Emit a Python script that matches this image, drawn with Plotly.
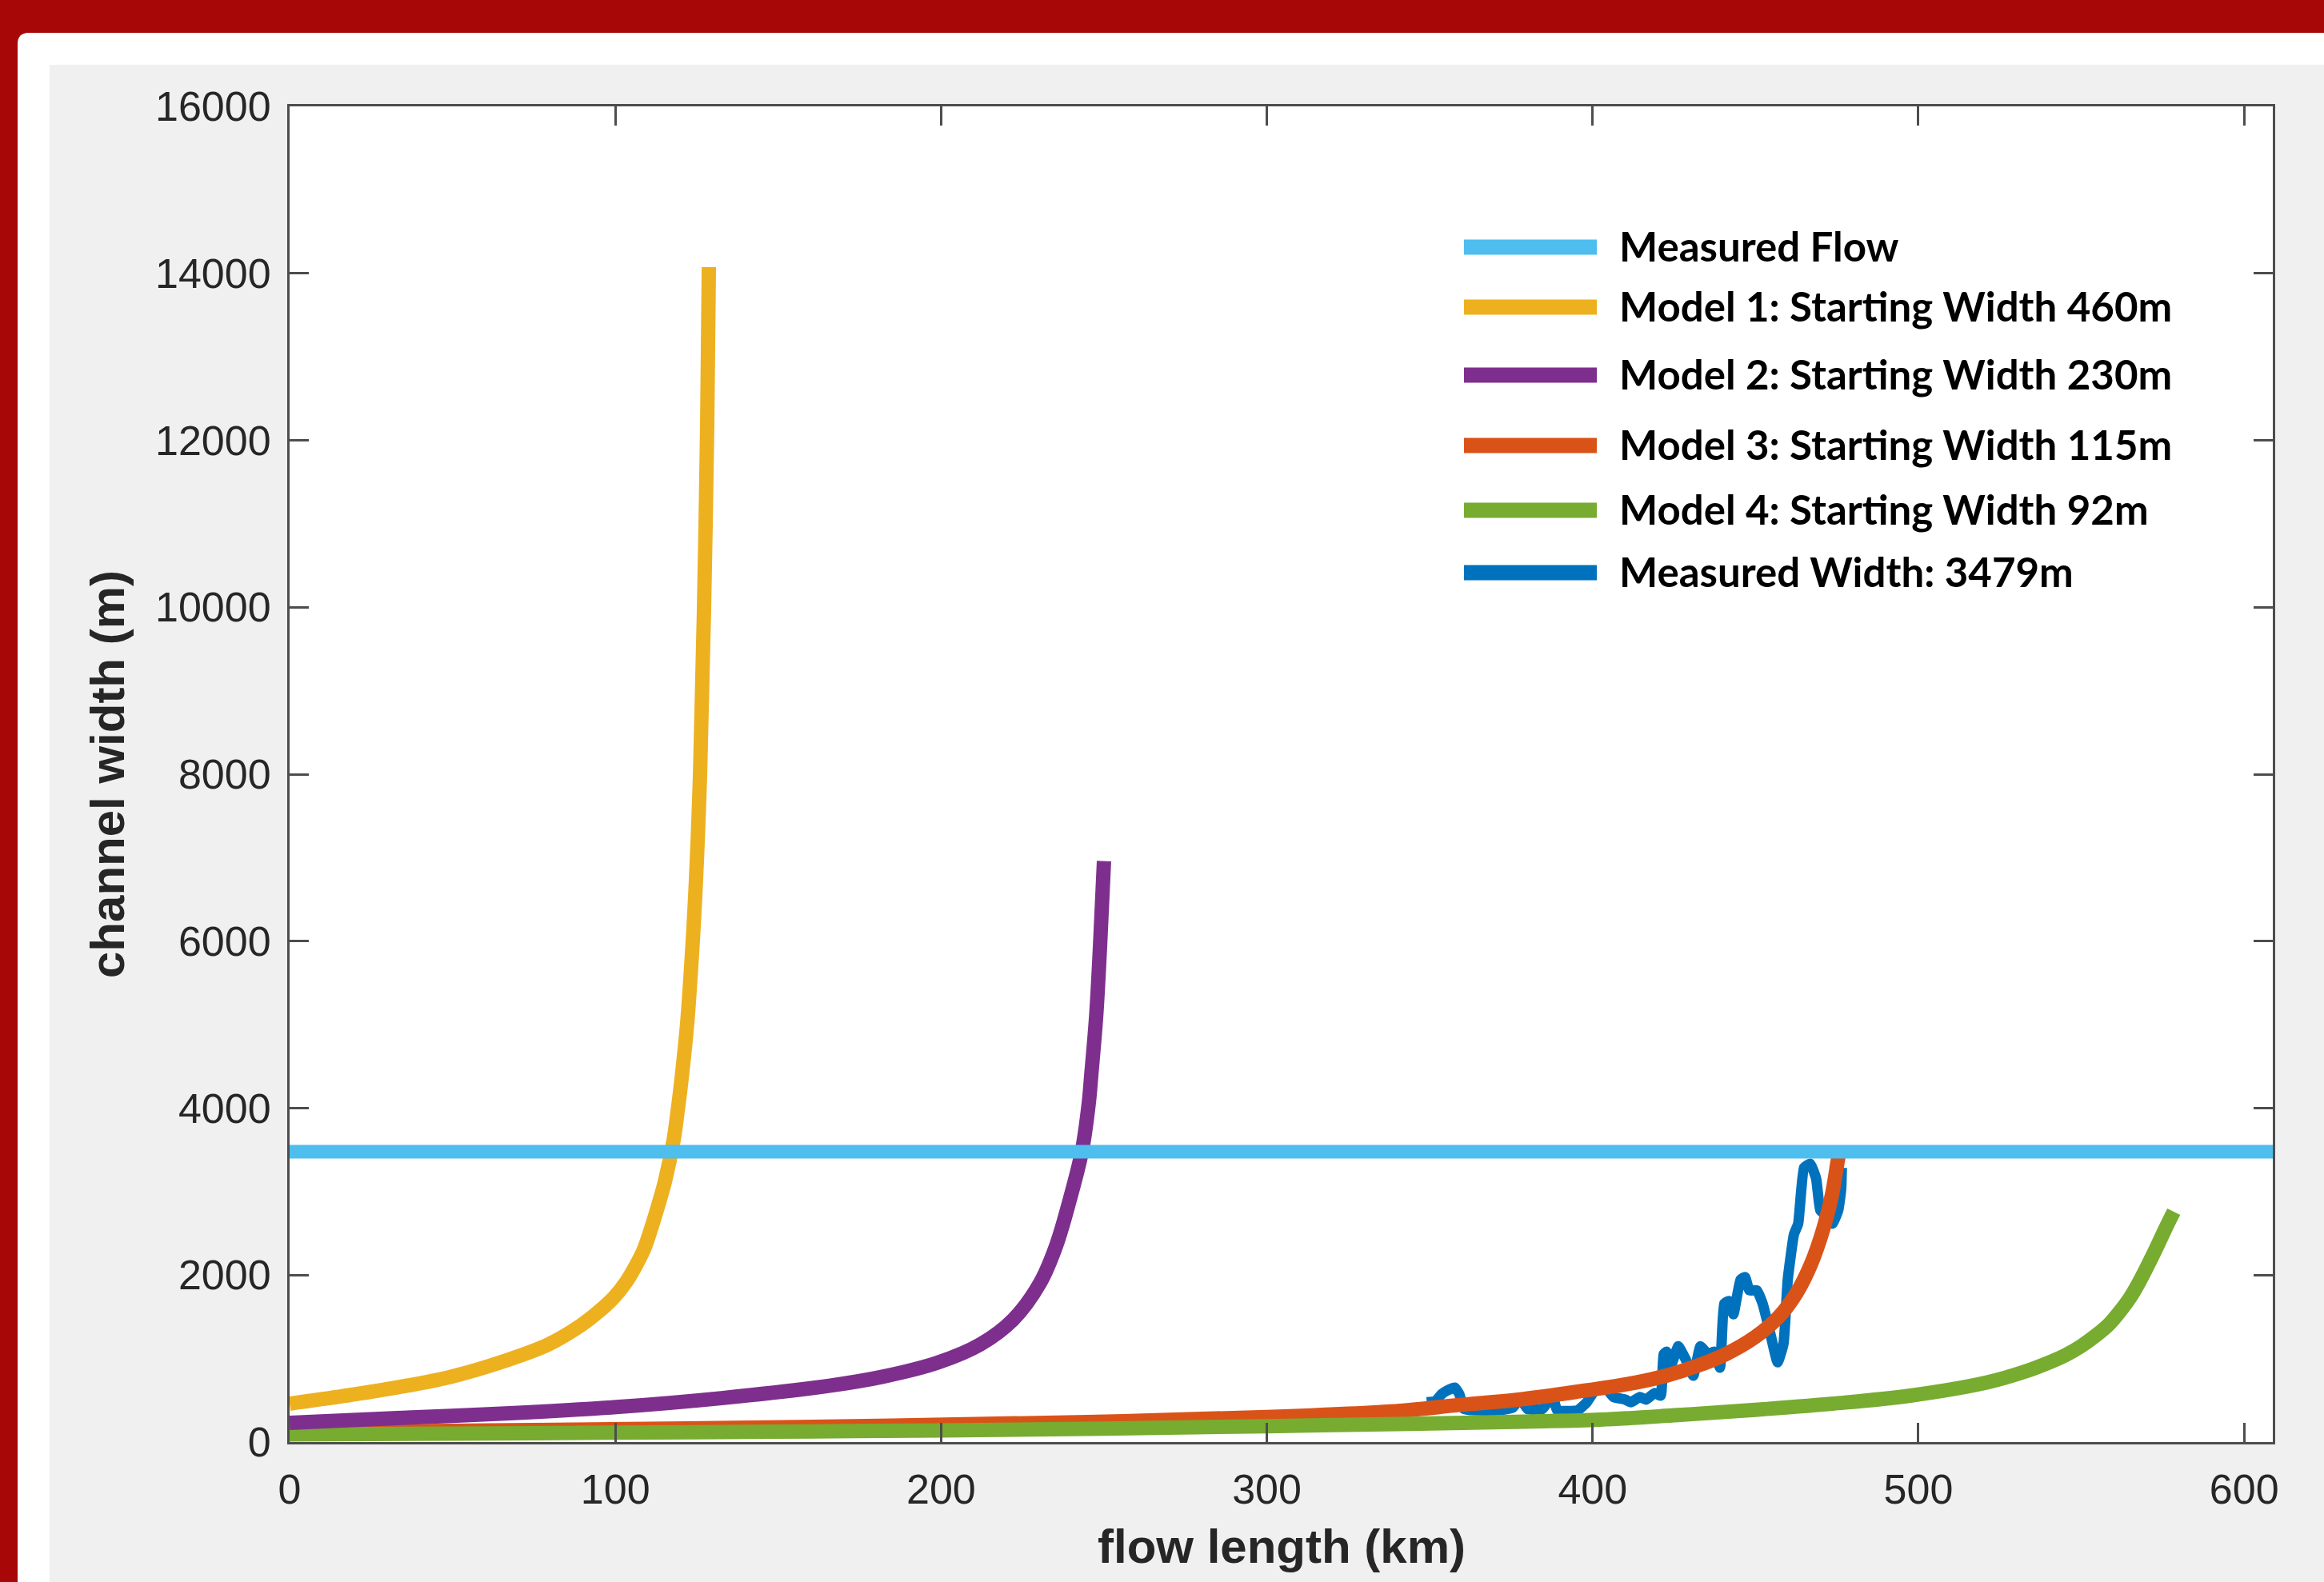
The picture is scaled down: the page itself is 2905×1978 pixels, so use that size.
import plotly.graph_objects as go

# ---------------- data ----------------
flow_x = [0, 608.8]
flow_w = [3479, 3479]

m1_x = [0, 16.6, 33.1, 49.7, 66.3, 79.5, 89.5, 94.5, 99.4, 103.0, 106.1, 108.8, 111.0,
        113.2, 115.2, 117.9, 119.1, 120.2, 121.9, 122.6, 124.4, 126.0, 127.2, 128.2, 128.7]
m1_w = [460, 552, 655, 784, 975, 1170, 1400, 1550, 1725, 1900, 2100, 2310, 2560,
        2840, 3120, 3620, 3960, 4310, 4950, 5300, 6450, 8000, 9950, 12200, 14074]

m2_x = [0, 33.1, 66.3, 99.4, 132.6, 165.7, 182.3, 198.9, 212.1, 222.1, 230.4,
        235.3, 239.5, 243.2, 245.3, 246.1, 247.6, 248.8, 250.0]
m2_w = [230, 287, 342, 416, 526, 674, 784, 950, 1171, 1466, 1908,
        2350, 2903, 3480, 4050, 4400, 5100, 5950, 6959]

m3_x = [0, 61, 122, 185, 245, 300, 340.9, 359.1, 377.2, 395.4, 413.6, 422.6,
        431.7, 440.8, 449.9, 457.1, 462.6, 467.1, 470.8, 473.5, 475.3, 475.8]
m3_w = [115, 138, 164, 196, 240, 300, 375, 444, 508, 604, 715, 795,
        907, 1051, 1258, 1498, 1785, 2137, 2551, 2967, 3382, 3479]

m4_x = [0, 50, 100, 150, 200, 250, 300, 350, 402.3, 426.1, 449.9, 473.7, 497.5,
        521.3, 533.2, 539.0, 545.1, 550.0, 554.6, 558.5, 561.8, 565.0, 567.7, 572.5, 576.0, 578.4]
m4_w = [92, 101, 112, 124, 140, 160, 190, 222, 268, 323, 386, 460, 556,
        716, 850, 935, 1040, 1150, 1280, 1410, 1560, 1730, 1910, 2280, 2570, 2760]

mw_x = [349.1, 351.8, 353.6, 355.5, 357.7, 359.1, 360.5, 364.5, 370.9, 375.5, 377.7,
        380.0, 384.6, 387.7, 389.1, 395.4, 398.2, 401.3, 403.6, 406.4, 410.0, 411.8,
        414.5, 416.4, 419.1, 420.9, 421.8, 422.7, 424.1, 426.3, 428.6, 430.9, 433.1,
        435.4, 437.3, 439.1, 440.4, 441.8, 443.2, 445.4, 446.8, 448.1, 450.4, 452.2,
        454.5, 456.8, 458.6, 459.9, 461.8, 463.1, 464.9, 466.8, 468.6, 469.9, 471.7,
        473.6, 475.4, 476.3, 476.5]
mw_w = [476, 492, 572, 620, 651, 572, 396, 380, 380, 412, 524,
        396, 396, 556, 380, 380, 476, 651, 668, 540, 508, 476,
        540, 508, 588, 556, 1051, 1083, 923, 1147, 987, 795, 1147,
        1051, 1083, 891, 1657, 1689, 1530, 1945, 1976, 1817, 1817, 1657,
        1306, 955, 1179, 1945, 2488, 2616, 3286, 3334, 3159, 2776, 2712,
        2616, 2776, 3031, 3286]

x_ticks = [0, 100, 200, 300, 400, 500, 600]
y_ticks = [0, 2000, 4000, 6000, 8000, 10000, 12000, 14000, 16000]

legend_labels = ["Measured Flow", "Model 1: Starting Width 460m", "Model 2: Starting Width 230m",
                 "Model 3: Starting Width 115m", "Model 4: Starting Width 92m", "Measured Width: 3479m"]

# ---------------- styling ----------------
C_FLOW = "#4DBEEE"
C_M1 = "#EDB120"
C_M2 = "#7E2F8E"
C_M3 = "#D95319"
C_M4 = "#77AC30"
C_MW = "#0072BD"
legend_colors = [C_FLOW, C_M1, C_M2, C_M3, C_M4, C_MW]

W, H = 2905, 1978
ML, MR, MT, MB = 362, 64, 133, 175
PW, PH = W - ML - MR, H - MT - MB


def px_x(p):
    return (p - ML) / PW


def px_y(p):
    return (H - MB - p) / PH


fig = go.Figure()


def add_line(x, y, color, width, spline=True, smoothing=1.0):
    fig.add_trace(go.Scatter(
        x=x, y=y, mode="lines",
        line=dict(color=color, width=width, shape="spline" if spline else "linear",
                  smoothing=smoothing if spline else None),
        showlegend=False, hoverinfo="skip"))


add_line(mw_x, mw_w, C_MW, 13, spline=True, smoothing=0.4)
add_line(m3_x, m3_w, C_M3, 18)
add_line(m4_x, m4_w, C_M4, 18)
add_line(m2_x, m2_w, C_M2, 18)
add_line(m1_x, m1_w, C_M1, 18)
add_line(flow_x, flow_w, C_FLOW, 17, spline=False)

AX = "#4d4d4d"
tickfont = dict(family="Liberation Sans, Arial, sans-serif", size=52, color="#262626")

axis_common = dict(
    ticks="inside", ticklen=24, tickwidth=3, tickcolor=AX,
    showline=True, linewidth=3, linecolor=AX, mirror="ticks",
    showgrid=False, zeroline=False, tickfont=tickfont, tickformat="d",
)

fig.update_xaxes(range=[0, 608.8], tickvals=x_ticks, ticklabelstandoff=12, **axis_common)
fig.update_yaxes(range=[0, 16000], tickvals=y_ticks, ticklabelstandoff=10, **axis_common)

shapes = []
# white rounded panel over red frame
x0, y0 = px_x(22), px_y(H + 5)
x1, y1 = px_x(W + 5), px_y(41)
rx, ry = 14 / PW, 14 / PH
shapes.append(dict(type="path", xref="paper", yref="paper", layer="below",
                   path=f"M {x0},{y0} L {x0},{y1 - ry} Q {x0},{y1} {x0 + rx},{y1} L {x1},{y1} L {x1},{y0} Z",
                   fillcolor="white", line=dict(width=0)))
# gray figure area
shapes.append(dict(type="rect", xref="paper", yref="paper", layer="below",
                   x0=px_x(62), x1=px_x(W + 5), y0=px_y(H + 5), y1=px_y(81),
                   fillcolor="#F0F0F0", line=dict(width=0)))
# white axes area
shapes.append(dict(type="rect", xref="paper", yref="paper", layer="below",
                   x0=0, x1=1, y0=0, y1=1, fillcolor="white", line=dict(width=0)))

annotations = []
legend_rows_px = [309, 384, 469, 557, 638, 716]
for lab, col, ry_px in zip(legend_labels, legend_colors, legend_rows_px):
    shapes.append(dict(type="line", xref="paper", yref="paper", layer="above",
                       x0=px_x(1830), x1=px_x(1996), y0=px_y(ry_px), y1=px_y(ry_px),
                       line=dict(color=col, width=19)))
    annotations.append(dict(xref="paper", yref="paper", x=px_x(2022), y=px_y(ry_px),
                            xanchor="left", yanchor="middle", showarrow=False,
                            text=f"<b>{lab}</b>", yshift=2,
                            font=dict(family="Lato, sans-serif", size=51, color="black")))

titlefont = dict(family="Liberation Sans, Arial, sans-serif", size=60, color="#262626")
annotations.append(dict(xref="paper", yref="paper", x=0.5, y=px_y(1933), xanchor="center",
                        yanchor="middle", showarrow=False, text="<b>flow length (km)</b>", font=titlefont))
annotations.append(dict(xref="paper", yref="paper", x=px_x(134), y=0.5, xanchor="center",
                        yanchor="middle", showarrow=False, textangle=-90,
                        text="<b>channel width (m)</b>", font=titlefont))

fig.update_layout(
    width=W, height=H,
    margin=dict(l=ML, r=MR, t=MT, b=MB, autoexpand=False),
    paper_bgcolor="#A70707", plot_bgcolor="white",
    shapes=shapes, annotations=annotations, showlegend=False,
)

fig.write_html("out.html", config={"displayModeBar": False},
               post_script="document.body.style.margin='0';document.body.style.overflow='hidden';")
